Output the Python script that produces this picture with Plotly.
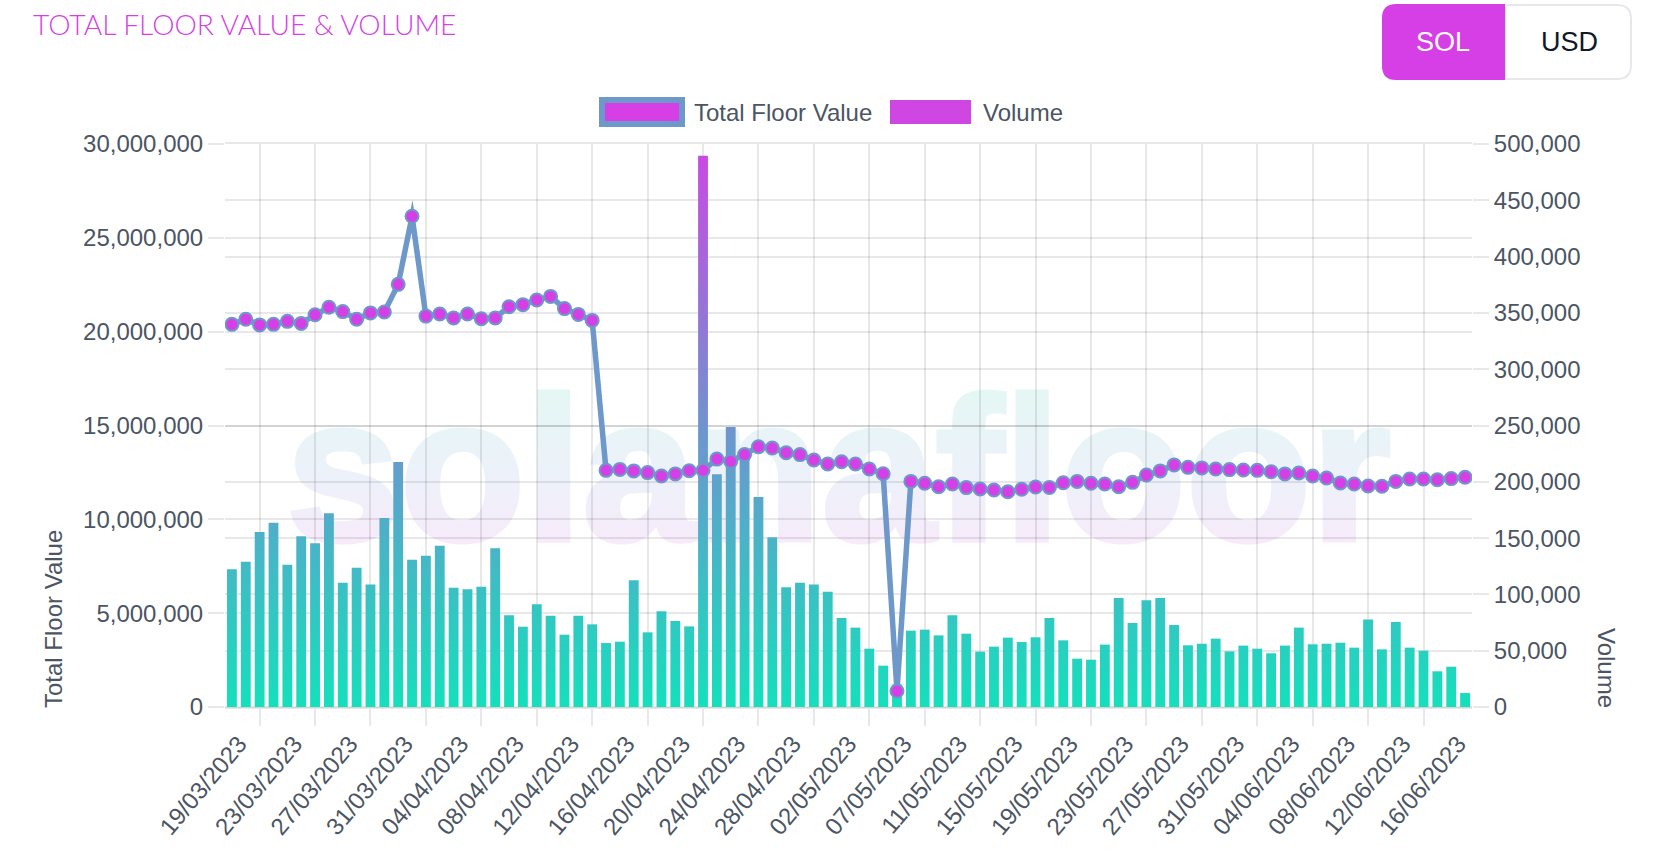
import plotly.graph_objects as go

dates = [
    "19/03/2023","20/03/2023","21/03/2023","22/03/2023","23/03/2023","24/03/2023","25/03/2023","26/03/2023",
    "27/03/2023","28/03/2023","29/03/2023","30/03/2023","31/03/2023","01/04/2023","02/04/2023","03/04/2023",
    "04/04/2023","05/04/2023","06/04/2023","07/04/2023","08/04/2023","09/04/2023","10/04/2023","11/04/2023",
    "12/04/2023","13/04/2023","14/04/2023","15/04/2023","16/04/2023","17/04/2023","18/04/2023","19/04/2023",
    "20/04/2023","21/04/2023","22/04/2023","23/04/2023","24/04/2023","25/04/2023","26/04/2023","27/04/2023",
    "28/04/2023","29/04/2023","30/04/2023","01/05/2023","02/05/2023","03/05/2023","05/05/2023","06/05/2023",
    "07/05/2023","08/05/2023","09/05/2023","10/05/2023","11/05/2023","12/05/2023","13/05/2023","14/05/2023",
    "15/05/2023","16/05/2023","17/05/2023","18/05/2023","19/05/2023","20/05/2023","21/05/2023","22/05/2023",
    "23/05/2023","24/05/2023","25/05/2023","26/05/2023","27/05/2023","28/05/2023","29/05/2023","30/05/2023",
    "31/05/2023","01/06/2023","02/06/2023","03/06/2023","04/06/2023","05/06/2023","06/06/2023","07/06/2023",
    "08/06/2023","09/06/2023","10/06/2023","11/06/2023","12/06/2023","13/06/2023","14/06/2023","15/06/2023",
    "16/06/2023","17/06/2023",
]

floor_value_millions = [
    20.39,20.66,20.36,20.39,20.55,20.44,20.90,21.30,21.07,20.66,21.00,21.05,22.52,26.15,20.83,20.94,20.73,20.94,
    20.69,20.73,21.33,21.44,21.69,21.88,21.23,20.92,20.60,12.61,12.66,12.58,12.49,12.31,12.42,12.59,12.61,13.21,
    13.09,13.45,13.87,13.80,13.55,13.45,13.16,12.95,13.07,12.95,12.68,12.43,0.85,12.02,11.92,11.74,11.88,11.69,
    11.62,11.56,11.47,11.60,11.72,11.70,11.95,12.02,11.92,11.88,11.74,11.97,12.36,12.58,12.90,12.77,12.74,12.68,
    12.65,12.63,12.61,12.54,12.42,12.47,12.31,12.20,11.94,11.88,11.78,11.76,12.02,12.15,12.15,12.11,12.17,12.24,
]
floor_value = [round(v * 1_000_000) for v in floor_value_millions]

volume_thousands = [
    122.3,129,155.4,163.7,126.4,151.6,145.4,172,110.4,123.7,108.9,167.9,217.6,130.8,134.4,143.3,106,104.5,
    106.9,140.9,81.4,71.3,91.2,81.1,64.2,81.1,73.4,56.8,58,112.5,66.3,85,76.4,71.6,489.6,206.6,
    248.7,225,186.5,150.7,106.3,110.4,108.9,102.4,79,70.5,51.8,36.7,20,67.8,68.7,63.6,81.4,65.1,
    49.1,53.6,61.6,57.7,61.9,79,59.2,42.9,42,55.4,96.8,74.6,94.7,96.8,72.8,54.8,56.2,60.7,
    49.4,54.5,51.8,47.7,54.5,70.5,55.7,56.2,57.1,52.7,77.6,51.2,75.5,52.7,50,31.7,35.8,12.4,
]
volume = [round(v * 1000) for v in volume_thousands]

label_dates = dates[0::4]
grid_dates = dates[2::4]
left_ticks = [0, 5000000, 10000000, 15000000, 20000000, 25000000, 30000000]
right_ticks = [0, 50000, 100000, 150000, 200000, 250000, 300000, 350000, 400000, 450000, 500000]

W, H = 1662, 862
L, R, T, B = 225, 1472, 144, 707
MAGENTA = "#d63fe6"
LINE = "#6d98c9"
TEXT = "#4b5563"
GRID = "rgba(0,0,0,0.09)"
FONT = "Liberation Sans, Arial, sans-serif"
SIZE = 24


def px(x):
    return (x - L) / (R - L)


def py(y):
    return (B - y) / (B - T)


def rect(x0, y0, x1, y1, fill, line=None, lw=0):
    return dict(type="rect", xref="paper", yref="paper", x0=px(x0), x1=px(x1), y0=py(y1), y1=py(y0),
                fillcolor=fill, line=dict(color=line or fill, width=lw), layer="above")


def text(s, x, y, size=SIZE, color=TEXT, xanchor="left", yanchor="middle", angle=0, family=FONT, weight=None):
    return dict(text=s, x=px(x), y=py(y), xref="paper", yref="paper", showarrow=False, xanchor=xanchor,
                yanchor=yanchor, textangle=angle, font=dict(size=size, color=color, family=family, weight=weight),
                borderpad=0, borderwidth=0)


def path_sol():
    r = 14
    x0, x1, y0, y1 = px(1382), px(1505), py(4), py(80)
    rx, ry = r / (R - L), r / (B - T)
    return dict(type="path", xref="paper", yref="paper", layer="above", fillcolor=MAGENTA, line=dict(width=0),
                path=f"M {x1} {y0} L {x0+rx} {y0} Q {x0} {y0} {x0} {y0-ry} L {x0} {y1+ry} "
                     f"Q {x0} {y1} {x0+rx} {y1} L {x1} {y1} Z")


def path_usd():
    r = 14
    x0, x1, y0, y1 = px(1505), px(1631), py(5), py(79)
    rx, ry = r / (R - L), r / (B - T)
    return dict(type="path", xref="paper", yref="paper", layer="above", fillcolor="white",
                line=dict(color="#e7e8ec", width=2),
                path=f"M {x0} {y0} L {x1-rx} {y0} Q {x1} {y0} {x1} {y0-ry} L {x1} {y1+ry} "
                     f"Q {x1} {y1} {x1-rx} {y1} L {x0} {y1} Z")


fig = go.Figure()
fig.add_trace(go.Bar(x=dates, y=volume, name="Volume", xaxis="x", yaxis="y", marker=dict(color="#35c4c4", line=dict(width=0))))
fig.add_trace(go.Scatter(x=dates, y=floor_value, name="Total Floor Value", xaxis="x2", yaxis="y2", mode="lines+markers",
                         line=dict(color=LINE, width=5.5),
                         marker=dict(color=MAGENTA, size=13, line=dict(color=LINE, width=2))))

common_x = dict(type="category", categoryorder="array", categoryarray=dates, range=[-0.5, 89.5])
tickfont = dict(size=SIZE, color=TEXT, family=FONT)
fig.update_layout(
    width=W, height=H, showlegend=False, bargap=0.29,
    paper_bgcolor="white", plot_bgcolor="rgba(0,0,0,0)",
    margin=dict(l=L, r=W - R, t=T, b=H - B, pad=0),
    font=dict(family=FONT, size=SIZE, color=TEXT),
    xaxis=dict(**common_x, tickmode="array", tickvals=grid_dates, ticktext=[""] * len(grid_dates), showticklabels=False,
               showgrid=True, gridcolor=GRID, gridwidth=2, ticks="outside", ticklen=17, tickcolor=GRID, tickwidth=2,
               showline=True, linecolor=GRID, linewidth=2, mirror=True, zeroline=False),
    xaxis2=dict(**common_x, overlaying="x", anchor="y", side="bottom", tickmode="array", tickvals=label_dates, ticktext=label_dates,
                showgrid=False, tickangle=-50, ticks="", ticklabelshift=7, ticklabelstandoff=17,
                tickfont=tickfont, zeroline=False, showline=False),
    yaxis=dict(range=[0, 500000], side="right", tickmode="array", tickvals=right_ticks, tickformat=",d", showgrid=True,
               gridcolor=GRID, gridwidth=2, ticks="outside", ticklen=16, tickcolor=GRID, tickwidth=2, zeroline=True,
               zerolinecolor=GRID, zerolinewidth=2, tickfont=tickfont, showline=False),
    yaxis2=dict(range=[0, 30000000], side="left", overlaying="y", anchor="x", tickmode="array", tickvals=left_ticks,
                tickformat=",d", showgrid=True, gridcolor=GRID, gridwidth=2, ticks="outside", ticklen=16, tickcolor=GRID,
                tickwidth=2, zeroline=False, tickfont=tickfont, showline=False),
    shapes=[
        rect(602, 100, 682, 124, MAGENTA, LINE, 6),
        rect(890, 100, 971, 124, "#cf46e3"),
        path_usd(), path_sol(),
    ],
    annotations=[
        text("solanafloor", 838, 468, size=205, color="#eeeef8", xanchor="center", weight=700),
        text("TOTAL FLOOR VALUE &amp; VOLUME", 33, 24, size=28.2, color=MAGENTA, family="Lato, sans-serif", weight=300),
        text("Total Floor Value", 694, 112),
        text("Volume", 983, 112),
        text("SOL", 1443, 42, size=27, color="white", xanchor="center"),
        text("USD", 1569, 42, size=27, color="#111827", xanchor="center"),
        text("Total Floor Value", 53, 708, yanchor="bottom", xanchor="center", angle=-90),
        text("Volume", 1607, 708, yanchor="bottom", xanchor="center", angle=90),
    ],
)

post = """
document.documentElement.style.overflow='hidden';
document.body.style.margin='0';
document.body.style.overflow='hidden';
(function(){
  var NS='http://www.w3.org/2000/svg';
  function grad(svg,id,attrs,stops){
    if(document.getElementById(id))return;
    var g=document.createElementNS(NS,'linearGradient');g.setAttribute('id',id);
    for(var k in attrs)g.setAttribute(k,attrs[k]);
    stops.forEach(function(s){var e=document.createElementNS(NS,'stop');e.setAttribute('offset',s[0]);e.setAttribute('stop-color',s[1]);g.appendChild(e);});
    svg.querySelector('defs').appendChild(g);
  }
  function apply(){
    var svg=document.querySelector('.js-plotly-plot svg.main-svg');
    if(!svg)return;
    grad(svg,'barGrad',{gradientUnits:'userSpaceOnUse',x1:0,x2:0,y1:563,y2:0},[[0,'#14e0bc'],[1,'#cc47e2']]);
    grad(svg,'wmGrad',{x1:0,x2:0,y1:0,y2:1},[[0.15,'#e4f7f4'],[0.55,'#edf1fa'],[0.85,'#f8eafa']]);
    document.querySelectorAll('.js-plotly-plot .bars .point path').forEach(function(p){p.style.fill='url(#barGrad)';});
    document.querySelectorAll('.js-plotly-plot .scatterlayer .js-line').forEach(function(p){p.style.strokeLinejoin='miter';p.style.strokeMiterlimit='10';});
    document.querySelectorAll('.js-plotly-plot .annotation').forEach(function(a){
      var t=a.querySelector('text');
      if(t&&t.textContent==='solanafloor'){
        t.style.fill='url(#wmGrad)';t.style.stroke='url(#wmGrad)';t.style.strokeWidth='5px';
        var c=svg.querySelector('.cartesianlayer');
        if(c&&a.parentNode!==svg)svg.insertBefore(a,c);
      }
    });
  }
  apply();setTimeout(apply,30);setTimeout(apply,200);
})();
"""
fig.write_html("out.html", post_script=post, config={"displayModeBar": False})
